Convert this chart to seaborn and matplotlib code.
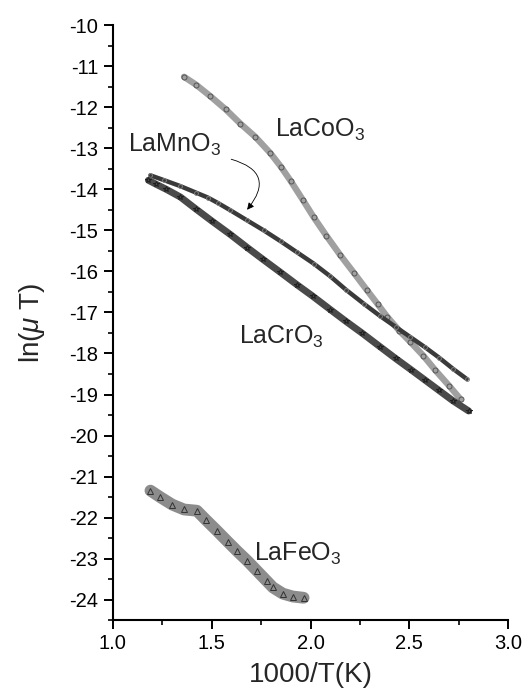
"""
ln(mu T) vs 1000/T for LaMO3 perovskites, drawn with seaborn.
"""

import matplotlib
matplotlib.use("Agg")
import matplotlib.pyplot as plt
import seaborn as sns

# values
co_x = [1.36, 1.42, 1.49, 1.57, 1.645, 1.72, 1.797, 1.85, 1.90, 1.96, 2.016, 2.08,
        2.15, 2.22, 2.286, 2.34, 2.387, 2.45, 2.505, 2.57, 2.63, 2.70, 2.76]
co_y = [-11.26, -11.45, -11.72, -12.05, -12.40, -12.72, -13.12, -13.45, -13.80, -14.25,
        -14.68, -15.13, -15.60, -16.04, -16.46, -16.80, -17.10, -17.45, -17.72, -18.05,
        -18.40, -18.78, -19.12]

mn_x = [1.19, 1.26, 1.34, 1.42, 1.48, 1.53, 1.594, 1.68, 1.763, 1.85, 1.93, 2.016,
        2.10, 2.18, 2.27, 2.35, 2.43, 2.505, 2.58, 2.65, 2.72, 2.79]
mn_y = [-13.66, -13.78, -13.92, -14.08, -14.20, -14.33, -14.51, -14.76, -15.00, -15.27,
        -15.53, -15.81, -16.12, -16.45, -16.79, -17.08, -17.35, -17.60, -17.85, -18.10,
        -18.37, -18.62]

cr_x = [1.18, 1.22, 1.27, 1.342, 1.42, 1.50, 1.594, 1.68, 1.76, 1.847, 1.93, 2.01,
        2.10, 2.18, 2.26, 2.353, 2.43, 2.507, 2.58, 2.65, 2.72, 2.80]
cr_y = [-13.78, -13.88, -14.00, -14.19, -14.48, -14.77, -15.10, -15.42, -15.71, -16.02,
        -16.32, -16.60, -16.93, -17.22, -17.50, -17.84, -18.12, -18.39, -18.65, -18.90,
        -19.15, -19.40]

fe_x = [1.19, 1.24, 1.30, 1.36, 1.425, 1.47, 1.527, 1.58, 1.63, 1.68, 1.73, 1.78,
        1.81, 1.86, 1.91, 1.965]
fe_y = [-21.34, -21.50, -21.68, -21.80, -21.83, -22.05, -22.32, -22.58, -22.82, -23.05,
        -23.30, -23.55, -23.70, -23.85, -23.92, -23.95]

sns.set_style("ticks")
plt.rcParams["font.family"] = ["Liberation Sans", "DejaVu Sans"]
plt.rcParams["mathtext.fontset"] = "custom"
plt.rcParams["mathtext.rm"] = "Liberation Sans"
plt.rcParams["mathtext.it"] = "Liberation Sans:italic"

fig = plt.figure(figsize=(5.25, 6.97), dpi=100)
ax = fig.add_axes([0.215, 0.110, 0.753, 0.854])

# each curve: a band (thick line) with open markers on top
series = [
    (co_x, co_y, "#a0a0a0", 4.6, "o", 3.6, "#555555"),
    (mn_x, mn_y, "#3a3a3a", 3.2, "o", 2.8, "#808080"),
    (cr_x, cr_y, "#4a4a4a", 5.0, "*", 4.2, "#1e1e1e"),
    (fe_x, fe_y, "#8c8c8c", 8.5, "^", 5.0, "#333333"),
]
for x, y, band, lw, mk, ms, edge in series:
    sns.lineplot(x=x, y=y, ax=ax, sort=False, color=band, lw=lw,
                 solid_capstyle="round", estimator=None)
    sns.lineplot(x=x, y=y, ax=ax, sort=False, color=edge, lw=0, marker=mk,
                 markersize=ms, markerfacecolor="none", markeredgecolor=edge,
                 markeredgewidth=0.7, estimator=None)

ax.set_xlim(1.0, 3.0)
ax.set_ylim(-24.5, -10)
ax.set_xticks([1.0, 1.5, 2.0, 2.5, 3.0])
ax.set_xticks([1.25, 1.75, 2.25, 2.75], minor=True)
ax.set_yticks(range(-24, -9))
ax.set_yticks([v + 0.5 for v in range(-25, -10)], minor=True)
ax.set_yticklabels([str(v) for v in range(-24, -9)])
ax.tick_params(axis="both", which="major", direction="out", length=6.5, width=1.4,
               labelsize=14.5, colors="black")
ax.tick_params(axis="y", which="major", pad=4)
ax.tick_params(axis="x", which="major", pad=3)
ax.tick_params(axis="both", which="minor", direction="out", length=3.6, width=1.4)
for s in ["left", "bottom"]:
    ax.spines[s].set_linewidth(1.5)
    ax.spines[s].set_color("black")
sns.despine(ax=ax)

ax.set_xlabel("1000/T(K)", fontsize=20, labelpad=7)
ax.set_ylabel(r"ln($\mathit{\mu}$ T)", fontsize=20, labelpad=16)

lab = dict(fontsize=18, va="baseline", ha="left")
ax.text(1.82, -12.72, r"LaCoO$_\mathregular{3}$", **lab)
ax.text(1.079, -13.09, r"LaMnO$_\mathregular{3}$", **lab)
ax.text(1.636, -17.76, r"LaCrO$_\mathregular{3}$", **lab)
ax.text(1.712, -23.05, r"LaFeO$_\mathregular{3}$", **lab)

ax.annotate("", xy=(1.67, -14.55), xytext=(1.585, -13.25),
            arrowprops=dict(arrowstyle="-|>", color="black", lw=0.6,
                            connectionstyle="arc3,rad=-0.8", mutation_scale=10))

fig.savefig("out.png", dpi=100)
plt.close(fig)
